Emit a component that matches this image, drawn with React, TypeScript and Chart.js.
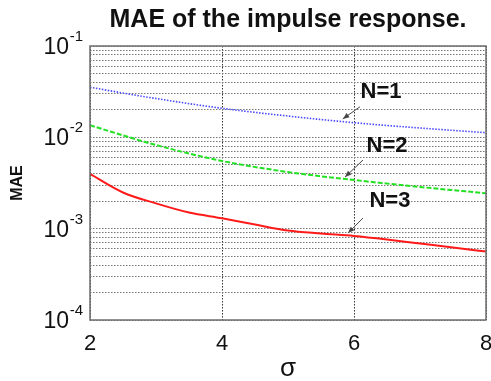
import React, { useEffect, useRef } from 'react';
import { Chart, registerables } from 'chart.js';

Chart.register(...registerables);

// ---------- data ----------
const sigmaCoarse = [2, 3, 4, 5, 6, 7, 8];
const sigmaFine = [2, 2.5, 3, 3.5, 4, 4.5, 5, 5.5, 6, 6.5, 7, 7.5, 8];
const maeN1 = [0.0353, 0.0266, 0.0208, 0.0171, 0.01446, 0.01265, 0.01124];
const maeN2 = [0.01354, 0.00824, 0.00551, 0.00417, 0.00341, 0.00286, 0.00244];
const maeN3 = [
  0.00397, 0.00249, 0.00189, 0.0015, 0.0013, 0.00111, 0.000955, 0.000885, 0.000831, 0.000761,
  0.000688, 0.000622, 0.000562,
];
const seriesLabels = ['N=1', 'N=2', 'N=3'];
const xTicks = [2, 4, 6, 8];
const yDecades = [1e-4, 1e-3, 1e-2, 1e-1];
const yExponents = ['-4', '-3', '-2', '-1'];
const titleText = 'MAE of the impulse response.';
const xTitle = 'σ';
const yTitle = 'MAE';
// annotation anchors in data coordinates: [sigma, MAE]
const annotLabelAt = [
  [6.41, 0.0313],
  [6.5, 0.00803],
  [6.545, 0.002],
];
const annotTailAt = [
  [6.09, 0.0216],
  [6.136, 0.00564],
  [6.136, 0.001306],
];
const annotTipAt = [
  [5.83, 0.0159],
  [5.864, 0.00367],
  [5.909, 0.000895],
];

const FONT = '"Liberation Sans", Arial, Helvetica, sans-serif';

const yGridValues: number[] = [];
for (let e = -4; e < -1; e++) {
  for (let m = 1; m <= 9; m++) yGridValues.push(Number((m * Math.pow(10, e)).toPrecision(3)));
}
yGridValues.push(1e-1);

const decorPlugin = {
  id: 'maeDecor',
  afterDatasetsDraw(chart: any) {
    const { ctx, chartArea: a, scales } = chart;
    const xs = scales.x;
    const ys = scales.y;
    ctx.save();
    ctx.setLineDash([]);
    ctx.strokeStyle = '#6e6e6e';
    ctx.lineWidth = 1.5;
    ctx.strokeRect(a.left, a.top, a.right - a.left, a.bottom - a.top);

    seriesLabels.forEach((t, i) => {
      const lx = xs.getPixelForValue(annotLabelAt[i][0]);
      const ly = ys.getPixelForValue(annotLabelAt[i][1]);
      ctx.font = `bold 22px ${FONT}`;
      ctx.fillStyle = '#111';
      ctx.textAlign = 'center';
      ctx.textBaseline = 'middle';
      ctx.fillText(t, lx, ly);

      const x0 = xs.getPixelForValue(annotTailAt[i][0]);
      const y0 = ys.getPixelForValue(annotTailAt[i][1]);
      const x1 = xs.getPixelForValue(annotTipAt[i][0]);
      const y1 = ys.getPixelForValue(annotTipAt[i][1]);
      ctx.strokeStyle = '#444';
      ctx.fillStyle = '#444';
      ctx.lineWidth = 1;
      ctx.beginPath();
      ctx.moveTo(x0, y0);
      ctx.lineTo(x1, y1);
      ctx.stroke();
      const ang = Math.atan2(y1 - y0, x1 - x0);
      const L = 7;
      const W = 0.38;
      ctx.beginPath();
      ctx.moveTo(x1, y1);
      ctx.lineTo(x1 - L * Math.cos(ang - W), y1 - L * Math.sin(ang - W));
      ctx.lineTo(x1 - L * Math.cos(ang + W), y1 - L * Math.sin(ang + W));
      ctx.closePath();
      ctx.fill();
    });
    ctx.restore();
  },
  afterDraw(chart: any) {
    const { ctx, chartArea: a, scales } = chart;
    const ys = scales.y;
    ctx.save();
    // title
    ctx.font = `bold 25px ${FONT}`;
    ctx.fillStyle = '#111';
    ctx.textAlign = 'center';
    ctx.textBaseline = 'alphabetic';
    ctx.fillText(titleText, (a.left + a.right) / 2, 27);

    // y tick labels 10^n
    yDecades.forEach((v, i) => {
      const y = ys.getPixelForValue(v);
      ctx.font = `15px ${FONT}`;
      const ew = ctx.measureText(yExponents[i]).width;
      const expLeft = a.left - 7 - ew;
      ctx.textAlign = 'left';
      ctx.fillText(yExponents[i], expLeft, y - 5);
      ctx.font = `23px ${FONT}`;
      ctx.textAlign = 'right';
      ctx.fillText('10', expLeft - 0.5, y + 8);
    });
    ctx.restore();
  },
};

export default function App() {
  const ref = useRef<HTMLCanvasElement | null>(null);

  useEffect(() => {
    if (!ref.current) return;
    const chart = new Chart(ref.current, {
      type: 'line',
      data: {
        datasets: [
          {
            label: seriesLabels[0],
            data: sigmaCoarse.map((s, i) => ({ x: s, y: maeN1[i] })),
            borderColor: '#4a4aff',
            borderWidth: 1.6,
            borderDash: [1.5, 1.5],
            pointRadius: 0,
            cubicInterpolationMode: 'monotone',
          },
          {
            label: seriesLabels[1],
            data: sigmaCoarse.map((s, i) => ({ x: s, y: maeN2[i] })),
            borderColor: '#22e022',
            borderWidth: 2,
            borderDash: [5, 2],
            pointRadius: 0,
            cubicInterpolationMode: 'monotone',
          },
          {
            label: seriesLabels[2],
            data: sigmaFine.map((s, i) => ({ x: s, y: maeN3[i] })),
            borderColor: '#ff1a1a',
            borderWidth: 2,
            pointRadius: 0,
            cubicInterpolationMode: 'monotone',
          },
        ],
      },
      options: {
        animation: false,
        responsive: true,
        maintainAspectRatio: false,
        layout: { padding: { top: 46, right: 5, bottom: 0, left: 0 } },
        plugins: {
          legend: { display: false },
          title: { display: false },
          tooltip: { enabled: false },
        },
        scales: {
          x: {
            type: 'linear',
            min: 2,
            max: 8,
            afterBuildTicks: (s: any) => {
              s.ticks = xTicks.map((v) => ({ value: v }));
            },
            afterFit: (s: any) => {
              s.height = 61;
              s.paddingLeft = 0;
              s.paddingRight = 0;
            },
            ticks: {
              autoSkip: false,
              maxRotation: 0,
              padding: 11,
              color: '#111',
              font: { family: FONT, size: 22 },
            },
            grid: { color: '#333', lineWidth: 1, drawTicks: false },
            border: { display: false, dash: [1.5, 1.5] },
            title: {
              display: true,
              text: xTitle,
              color: '#111',
              font: { family: FONT, size: 26 },
              padding: { top: 0, bottom: -3 },
            },
          },
          y: {
            type: 'logarithmic',
            min: 1e-4,
            max: 1e-1,
            afterBuildTicks: (s: any) => {
              s.ticks = yGridValues.map((v) => ({ value: v }));
            },
            afterFit: (s: any) => {
              s.width = 90;
              s.paddingTop = 0;
              s.paddingBottom = 0;
            },
            ticks: { display: false, autoSkip: false },
            grid: { color: '#777', lineWidth: 1, drawTicks: false },
            border: { display: false, dash: [1.5, 1.5] },
            title: {
              display: true,
              text: yTitle,
              color: '#111',
              font: { family: FONT, size: 16, weight: 'bold' },
              padding: { top: 8, bottom: 0 },
            },
          },
        },
      },
      plugins: [decorPlugin],
    } as any);
    return () => chart.destroy();
  }, []);

  return (
    <div style={{ position: 'fixed', left: 0, top: 0, width: 491, height: 381, background: '#fff' }}>
      <canvas ref={ref} />
    </div>
  );
}
